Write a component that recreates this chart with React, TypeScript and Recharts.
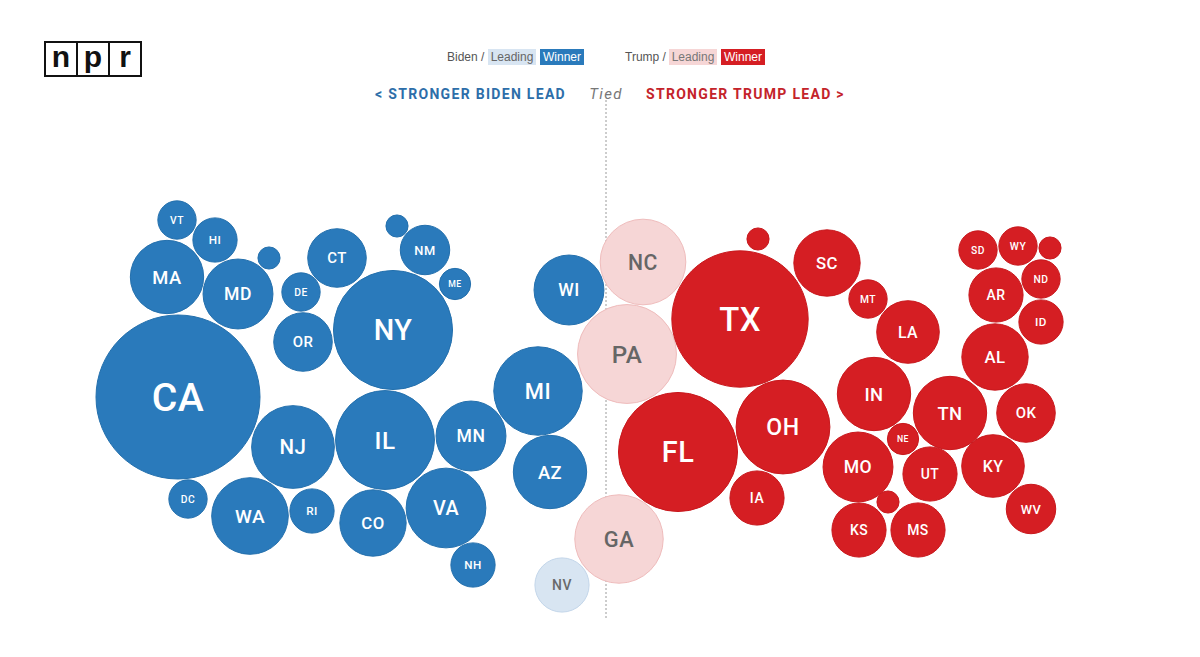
import React from 'react';
import { ScatterChart, Scatter, XAxis, YAxis, ZAxis, ReferenceLine } from 'recharts';

// ---- Data ----
const STATES = [
  'CA', 'NY', 'IL', 'NJ', 'MA', 'MD', 'VA', 'WA', 'MN', 'MI', 'WI', 'AZ', 'CO', 'CT', 'OR', 'NM', 'NH', 'HI', 'VT', 'DE', 'RI', 'DC', 'ME', 'ME-1', 'NE-2',
  'NV',
  'NC', 'PA', 'GA',
  'TX', 'FL', 'OH', 'SC', 'MT', 'LA', 'IN', 'TN', 'AL', 'AR', 'SD', 'WY', 'ND', 'ID', 'ME-2', 'OK', 'KY', 'WV', 'MO', 'NE', 'UT', 'KS', 'MS', 'NE-3', 'IA', 'NE-1',
];
// horizontal position: lean (left = Biden, right = Trump)
const LEAN_X = [
  178, 393, 385, 293, 167, 238, 446, 250, 471, 538, 569, 550, 373, 337, 303, 425, 473, 215, 177, 301, 312, 188, 455, 269, 397,
  562,
  643, 627, 619,
  740, 678, 783, 827, 868, 908, 874, 950, 995, 996, 978, 1018, 1041, 1041, 1050, 1026, 993, 1031, 858, 903, 930, 859, 918, 888, 757, 758,
];
// vertical position in the packed layout
const PACK_Y = [
  397, 330, 440, 447, 277, 294, 508, 516, 436, 391, 290, 472, 523, 258, 342, 250, 565, 240, 220, 292, 511, 499, 284, 258, 226,
  585,
  262, 354, 539,
  319, 452, 427, 263, 299, 332, 394, 413, 357, 295, 250, 246, 279, 322, 248, 413, 466, 509, 467, 439, 474, 530, 530, 502, 498, 239,
];
const ELECTORAL_VOTES = [
  55, 29, 20, 14, 11, 10, 13, 12, 10, 16, 10, 11, 9, 7, 7, 5, 4, 4, 3, 3, 4, 3, 2, 1, 1,
  6,
  15, 20, 16,
  38, 29, 18, 9, 3, 8, 11, 11, 9, 6, 3, 3, 3, 4, 1, 7, 8, 5, 10, 2, 6, 6, 6, 1, 6, 1,
];
const STATUS = [
  ...Array(25).fill('bidenWinner'),
  'bidenLeading',
  'trumpLeading', 'trumpLeading', 'trumpLeading',
  ...Array(26).fill('trumpWinner'),
];

const TIED_X = 606;
const MAX_EV = 55;
const MAX_R = 82;

const STYLE: Record<string, { fill: string; stroke: string; text: string }> = {
  bidenWinner: { fill: '#2a7abb', stroke: '#2470ad', text: '#ffffff' },
  bidenLeading: { fill: '#d8e5f2', stroke: '#c3d6ea', text: '#6a6a6a' },
  trumpLeading: { fill: '#f6d6d6', stroke: '#efbcbc', text: '#666666' },
  trumpWinner: { fill: '#d51e23', stroke: '#c8181d', text: '#ffffff' },
};

const data = STATES.map((s, i) => ({
  state: s,
  x: LEAN_X[i],
  y: PACK_Y[i],
  ev: ELECTORAL_VOTES[i],
  status: STATUS[i],
}));

const Bubble = (props: any) => {
  const { cx, cy, width, payload } = props;
  const r = width / 2;
  const st = STYLE[payload.status];
  return (
    <g>
      <circle cx={cx} cy={cy} r={r} fill={st.fill} stroke={st.stroke} strokeWidth={1} />
      {payload.ev >= 2 && (
        <text
          x={cx}
          y={cy}
          dy="0.36em"
          textAnchor="middle"
          fill={st.text}
          fontSize={0.46 * r + 1.5}
          fontFamily="Roboto, 'Noto Sans', sans-serif"
          fontWeight={500}
          letterSpacing={0.5}
        >
          {payload.state}
        </text>
      )}
    </g>
  );
};

const legendText: React.CSSProperties = {
  position: 'absolute',
  top: 49,
  height: 16,
  lineHeight: '16px',
  fontSize: 12,
  fontFamily: "'Liberation Sans', Arial, sans-serif",
  color: '#555',
  whiteSpace: 'nowrap',
};

const box = (left: number, width: number, bg: string, color: string): React.CSSProperties => ({
  ...legendText,
  left,
  width,
  background: bg,
  color,
  textAlign: 'center',
});

const headline: React.CSSProperties = {
  position: 'absolute',
  top: 85,
  height: 18,
  lineHeight: '18px',
  fontSize: 14,
  fontWeight: 700,
  letterSpacing: 1.3,
  fontFamily: "Roboto, 'Noto Sans', sans-serif",
  whiteSpace: 'nowrap',
};

const logoBox = (left: number): React.CSSProperties => ({
  position: 'absolute',
  left,
  top: 41,
  width: 30,
  height: 32,
  border: '2px solid #111',
  background: '#fff',
  textAlign: 'center',
  lineHeight: '28px',
  fontSize: 30,
  fontWeight: 700,
  fontFamily: "'Liberation Sans', Arial, sans-serif",
  color: '#111',
});

export default function App() {
  return (
    <div style={{ position: 'absolute', left: 0, top: 0, width: 1200, height: 657, background: '#fff' }}>
      <ScatterChart width={1200} height={657} margin={{ top: 0, right: 0, bottom: 0, left: 0 }}>
        <XAxis type="number" dataKey="x" domain={[0, 1200]} allowDataOverflow hide />
        <YAxis type="number" dataKey="y" domain={[0, 657]} reversed allowDataOverflow hide />
        <ZAxis type="number" dataKey="ev" domain={[0, MAX_EV]} range={[0, Math.PI * MAX_R * MAX_R]} />
        <ReferenceLine
          segment={[{ x: TIED_X, y: 100 }, { x: TIED_X, y: 618 }]}
          stroke="#9a9a9a"
          strokeDasharray="2 2"
          strokeWidth={1}
        />
        <Scatter data={data} shape={Bubble} isAnimationActive={false} />
      </ScatterChart>

      {/* NPR logo */}
      <div style={logoBox(44)}>n</div>
      <div style={logoBox(76)}>p</div>
      <div style={logoBox(108)}>r</div>

      {/* Legend */}
      <div style={{ ...legendText, left: 447 }}>Biden /</div>
      <div style={box(488, 48, '#d8e5f2', '#666')}>Leading</div>
      <div style={box(540, 44, '#2a7abb', '#fff')}>Winner</div>
      <div style={{ ...legendText, left: 625 }}>Trump /</div>
      <div style={box(669, 48, '#f6d6d6', '#777')}>Leading</div>
      <div style={box(721, 44, '#d51e23', '#fff')}>Winner</div>

      {/* Headline */}
      <div style={{ ...headline, right: 1200 - 566, color: '#2d6ea9' }}>&lt; STRONGER BIDEN LEAD</div>
      <div
        style={{
          ...headline,
          left: 576,
          width: 60,
          textAlign: 'center',
          fontWeight: 400,
          fontStyle: 'italic',
          fontSize: 15,
          color: '#777',
        }}
      >
        Tied
      </div>
      <div style={{ ...headline, left: 646, color: '#c4232a' }}>STRONGER TRUMP LEAD &gt;</div>
    </div>
  );
}
